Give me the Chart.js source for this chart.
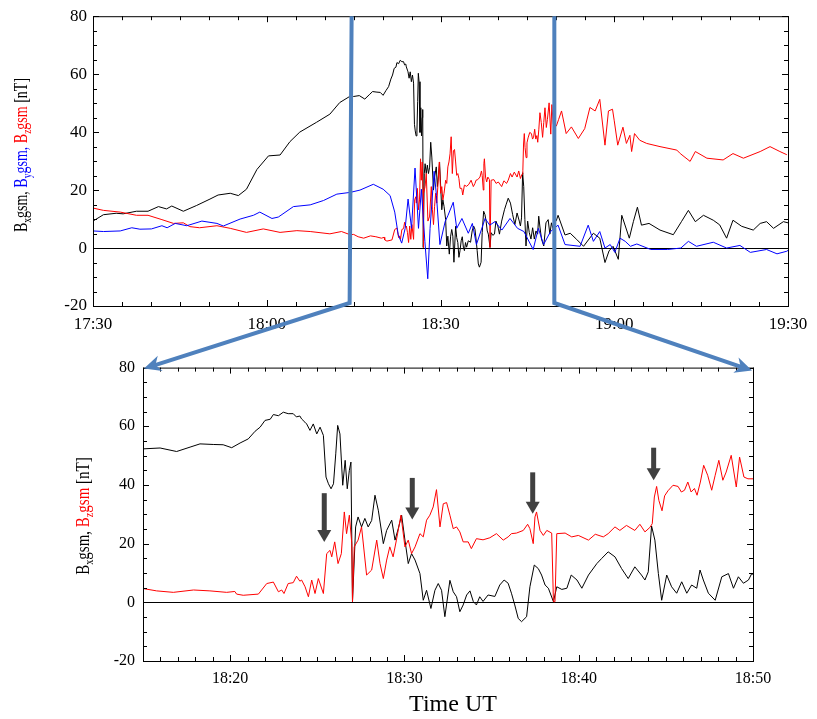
<!DOCTYPE html>
<html>
<head>
<meta charset="utf-8">
<script src="https://cdn.jsdelivr.net/npm/chart.js@4.4.1/dist/chart.umd.min.js"></script>
<style>
  body { margin:0; background:#fff; }
  #page { position:relative; width:817px; height:719px; overflow:hidden; }
  canvas { position:absolute; left:0; }
  #cTop { top:0; }
  #cZoom { top:350px; }
  #overlay { top:0; pointer-events:none; }
</style>
</head>
<body>
<div id="page">
  <canvas id="cTop" width="817" height="345"></canvas>
  <canvas id="cZoom" width="817" height="369"></canvas>
  <canvas id="overlay" width="817" height="719"></canvas>
</div>
<script>
/* times are minutes after 18:00 UT, values in nT */

// overview panel, before and after the zoomed window
const topBxEarly = [[-30,9.3],[-28.2,11.5],[-26,12],[-24.8,11.8],[-22.5,12.7],[-20.5,12.7],[-18.7,14.3],[-17.3,13.5],[-16.4,14.5],
  [-14.4,12.7],[-12.1,14.7],[-9.8,16.9],[-8.4,18.3],[-6.3,18.9],[-4.9,18.1],[-3.5,20.3],[-1.7,27.1],[0.3,31.8],[2.3,32.1],
  [4,36.7],[5.7,40],[8.6,43.4],[10.9,46.2],[12.6,50.2],[14.4,52.4]];
const topBxLate = [[50.3,11.3],[51.5,4.5],[52.4,5.1],[53.5,3],[54.7,0.6],[56.4,5.1],[57.5,3.4],[58.4,-5],[59.1,-1],[59.8,0.6],
  [60.7,-3.9],[61.3,11.3],[62.6,3.4],[63.3,9.1],[64,14.1],[64.7,7.9],[66,8.5],[67.9,6.2],[70.2,4.6],[71.6,9.1],[72.8,13],
  [74,9.1],[75.4,11.3],[77.1,9.6],[78.2,8],[79.4,3.4],[80.5,9.6],[82,7.5],[84,6.2],[85.2,8.5],[86.3,9.1],[87.5,6.8],[89.2,9.1],[90,8.7]];
const topBy = [[-30,5.9],[-28.2,5.7],[-25.3,5.9],[-23.3,7],[-21.9,6.5],[-19.9,6.6],[-18.1,7.7],[-17.2,7],[-15.8,8.5],[-13.8,7.7],
  [-11.2,9.3],[-8.6,8.5],[-7.5,7.6],[-4.6,10],[-2.3,11.3],[-1.2,12.4],[0.9,10.2],[2,10.7],[4.6,14.3],[7.5,14.9],[9.8,16.4],
  [12.1,18.6],[14.4,19.2],[16.1,20],[18.4,22],[20.1,20.3],[21.3,18.1],[22.1,12.4],[22.7,4.6],[23.3,1.7],[23.9,6.8],[24.4,16.9],
  [25,6.8],[25.6,27.6],[26.2,6.8],[26.7,20.3],[27.3,2.3],[27.8,-10.6],[28.2,6.8],[28.9,26.5],[29.3,18.1],[29.9,1.2],[30.8,9.1],
  [31.3,11.3],[32.2,15.8],[32.8,6.8],[33.7,10.2],[34.8,5.1],[35.5,8.5],[36.2,1.2],[37.7,10.2],[38.5,7.9],[39.4,9.1],[40.6,6.2],
  [42,10.2],[43.3,6.8],[44.4,5.7],[46,-0.5],[46.9,6.8],[47.8,1.2],[49,5.7],[50.3,7.9],[51.5,1.2],[54.1,0.6],[55.5,7.9],[56.4,2.3],
  [57.5,5.7],[58.4,0],[59.3,1.2],[60.1,-1.5],[61,3.4],[61.9,2.3],[62.8,0.6],[63.9,1.4],[66.3,-0.5],[69.2,-0.5],[71.5,0],[72.8,2.3],
  [74.2,0.6],[77.1,2],[79.4,0],[81.7,0.9],[83.5,-1.5],[86.3,-0.5],[88.1,-2],[89.8,-1.1],[90,-0.8]];
const topBzEarly = [[-30,13.8],[-28.2,13],[-25.3,12.4],[-22.5,11.3],[-20.5,11.3],[-18.1,9.8],[-16.1,8.5],[-14.4,8.7],[-13.3,7.4],
  [-11.6,7],[-8.6,7.7],[-6.3,6.8],[-3.5,5.4],[-0.6,6.6],[2.3,5.4],[5.2,6],[7.5,5.7],[10.9,4.9],[12.9,5.7],[14.4,4.6]];
const topBzLate = [[50.4,44.4],[50.9,47.3],[51.7,39.5],[52.6,41.8],[53.8,37.8],[54.9,41.2],[55.8,48.5],[56.7,47.3],[57.5,51.3],
  [58.4,35.5],[59,47.3],[59.7,47.9],[60,43.9],[60.6,35.5],[61.5,41.7],[62.1,36.1],[62.7,38.9],[63,33.3],[63.5,39.5],[64.4,37.2],
  [65.6,36.1],[67.9,35],[70.8,33.8],[71.4,32.6],[73.1,29.9],[74,33.3],[76,31],[78.8,30.4],[80.5,32.6],[82.3,31],[85.2,33.3],
  [86.9,35],[88.6,33.3],[89.8,32.2]];

// zoomed window 18:15 - 18:50
const zoomBx = [[15,52.3],[15.98,52.6],[16.93,51.4],[17.7,52.9],[18.27,54],[19.03,53.8],[19.6,53.7],[20.09,52.7],[20.57,54.3],
  [21.04,55.7],[21.43,58.3],[21.72,59.7],[22,62],[22.3,62.4],[22.48,64],[22.77,63.6],[23.05,64.8],[23.33,64.3],[23.62,64.3],
  [23.8,63.2],[24,63.5],[24.1,62.5],[24.29,61.4],[24.39,60.8],[24.58,58.6],[24.77,60.8],[24.97,57.4],[25.16,59.7],[25.35,56.9],
  [25.5,42.7],[25.64,40.4],[25.79,38.7],[25.93,40.4],[26.06,50.6],[26.17,60.3],[26.3,57.4],[26.46,39.9],[26.6,48.4],[26.72,38.7],
  [26.84,45],[26.93,47.8],[27.02,0.2],[27.2,25.7],[27.34,29.1],[27.54,25.7],[27.73,28.6],[27.92,25.7],[28.12,27.9],[28.31,36.5],
  [28.5,31.4],[28.79,20],[28.98,24.5],[29.27,28],[29.46,21.2],[29.65,25.2],[29.84,29.7],[30.03,21.2],[30.22,13.2],[30.41,16.6],
  [30.61,14.4],[30.89,9.8],[31.08,0.7],[31.27,4.1],[31.52,-2.1],[31.75,4.1],[31.94,6.4],[32.13,4.1],[32.32,-4.9],[32.61,7.5],
  [32.8,3.6],[32.99,1.9],[33.18,-3.2],[33.37,-0.9],[33.57,2.5],[33.76,3.9],[33.95,0.3],[34.13,-0.9],[34.32,1.9],[34.51,0.3],
  [34.8,2.5],[35.19,2],[35.47,5.9],[35.72,7.6],[35.95,6.5],[36.14,3.1],[36.33,-0.9],[36.53,-5.5],[36.72,-6.6],[37.01,-4.9],
  [37.2,5.3],[37.45,12.7],[37.68,11.5],[37.87,9.3],[38.07,5.9],[38.26,4.8],[38.55,0.2],[38.74,5.3],[39.03,4.4],[39.32,4.8],
  [39.57,9.3],[39.9,7.6],[40.18,4.8],[40.56,9.3],[41.04,13.2],[41.31,14.9],[41.69,17.2],[42.08,15.5],[42.46,11.5],[42.84,8.1],
  [43.22,12.1],[43.6,9.3],[43.8,7.6],[43.99,10.4],[44.18,26],[44.37,21.2],[44.57,9.8],[44.76,0.7],[45.05,9.3],[45.33,5.3],
  [45.62,3.1],[45.91,7],[46.2,3.1],[46.48,5.9],[46.77,4.8],[46.96,11],[47.15,7.6],[47.44,3.1],[47.83,0.7],[48.21,8.7],
  [48.59,9.8],[48.88,4.8],[49.16,8.7],[49.45,6.5],[49.74,7.6],[49.93,9.8],[50,9.5]];
const zoomBz = [[15,4.7],[15.78,3.9],[16.74,3.4],[17.9,4.2],[18.84,3.9],[19.8,3.4],[20.27,3.7],[20.37,2.8],[20.75,2.4],[21.62,2.8],
  [22.1,6.4],[22.48,6.9],[22.77,3.6],[22.96,4.2],[23.09,3],[23.33,6.4],[23.62,6.7],[23.81,8.9],[24,7.2],[24.1,7.6],[24.3,5.3],
  [24.49,1.9],[24.68,7.6],[24.87,3],[25.06,8.1],[25.35,3],[25.54,16.6],[25.73,17.7],[25.83,15.5],[26,20.6],[26.19,13.2],
  [26.38,16.6],[26.55,30.8],[26.68,23.4],[26.84,29.7],[26.98,20],[27.02,0.2],[27.12,18.9],[27.34,21.2],[27.54,25.7],[27.83,9.3],
  [28.12,11],[28.41,21.2],[28.6,13.2],[28.79,8.1],[28.98,14.4],[29.16,18.9],[29.35,15.5],[29.54,21.2],[29.8,29.7],[30.03,18.9],
  [30.22,21.2],[30.41,16.6],[30.61,18.9],[30.89,23.4],[31.08,22.3],[31.27,28],[31.46,29.7],[31.65,32.5],[31.84,38.4],[32.04,25.7],
  [32.23,33.6],[32.42,34],[32.61,29.7],[32.8,25.1],[32.99,25.7],[33.18,24],[33.37,20.6],[33.66,20.6],[33.84,18.3],[34.13,21.7],
  [34.51,21.3],[34.9,22],[35.28,23.4],[35.67,21.2],[35.95,22.3],[36.14,23.4],[36.43,23.6],[36.82,24.5],[37.07,26.6],[37.2,25.1],
  [37.39,20],[37.49,29.1],[37.58,30.8],[37.78,24.5],[37.97,22.8],[38.17,24.5],[38.45,23.6],[38.55,0.2],[38.64,0.2],[38.74,23.4],
  [39.22,23.6],[39.6,22.3],[39.98,22.8],[40.56,21.2],[40.95,23.2],[41.41,22.3],[41.69,23.4],[42.08,25.7],[42.36,24.5],[42.74,26.2],
  [43.22,24.5],[43.51,26.6],[43.8,24],[44.08,25.5],[44.22,26.8],[44.34,35.9],[44.47,39.5],[44.6,34.7],[44.78,31.2],[44.93,36.3],
  [45.12,38],[45.41,39.9],[45.7,39.5],[45.89,37.6],[46.07,38.2],[46.26,41],[46.45,37.6],[46.64,38.8],[46.79,36.5],[46.98,41],
  [47.17,46.7],[47.4,43.3],[47.63,38.2],[47.83,43.3],[48.04,48.4],[48.27,41.6],[48.46,44.4],[48.75,50.1],[49.04,39.3],[49.23,49.5],
  [49.48,42.7],[49.71,42.1],[50,42.1]];

// onset arrows in the zoomed panel
const arrowT   = [25.4, 30.45, 37.36, 44.3];
const arrowTip = [20.6, 28.2, 30.2, 41.6];
const arrowTop = [37.2, 42.4, 44.3, 52.7];

const zoomWindow = [15, 50];

const SERIF = '"Liberation Serif", "Times New Roman", serif';
Chart.defaults.font.family = SERIF;
Chart.defaults.color = '#000';

const xy = arr => arr.map(p => ({ x: p[0], y: p[1] }));

function hhmm(v) {
  const m = Math.round(v);
  const h = 18 + Math.floor(m / 60);
  return h + ':' + String(((m % 60) + 60) % 60).padStart(2, '0');
}

// rotated axis title with coloured pieces and subscripts; stretch widens the glyphs across the axis
function drawRich(ctx, parts, cx, cy, size, stretch) {
  ctx.save();
  ctx.translate(cx, cy);
  ctx.rotate(-Math.PI / 2);
  ctx.scale(1, stretch);
  ctx.textBaseline = 'middle';
  let total = 0;
  parts.forEach(p => {
    ctx.font = (p.sub ? size * 0.68 : size) + 'px ' + SERIF;
    p.w = ctx.measureText(p.t).width;
    total += p.w;
  });
  let x = -total / 2;
  parts.forEach(p => {
    ctx.font = (p.sub ? size * 0.68 : size) + 'px ' + SERIF;
    ctx.fillStyle = p.c;
    ctx.fillText(p.t, x, p.sub ? size * 0.3 : 0);
    x += p.w;
  });
  ctx.restore();
}

const framePlugin = {
  id: 'frame',
  beforeDatasetsDraw(chart) {
    const { ctx, chartArea: a, scales } = chart;
    const y0 = scales.y.getPixelForValue(0);
    ctx.save();
    ctx.strokeStyle = '#000';
    ctx.lineWidth = 1;
    ctx.beginPath();
    ctx.moveTo(a.left, Math.round(y0) + 0.5);
    ctx.lineTo(a.right, Math.round(y0) + 0.5);
    ctx.stroke();
    ctx.restore();
  },
  afterDatasetsDraw(chart, args, o) {
    const { ctx, chartArea: a, scales } = chart;
    ctx.save();
    ctx.strokeStyle = '#000';
    ctx.lineWidth = 1;
    ctx.strokeRect(a.left + 0.5, a.top + 0.5, a.right - a.left, a.bottom - a.top);
    ctx.beginPath();
    for (let v = scales.x.min; v <= scales.x.max + 1e-6; v += o.xMinor) {
      const px = Math.round(scales.x.getPixelForValue(v)) + 0.5;
      const len = Math.abs(Math.round(v) % o.xMajor) === 0 ? 6 : 4;
      ctx.moveTo(px, a.bottom); ctx.lineTo(px, a.bottom - len);
      ctx.moveTo(px, a.top); ctx.lineTo(px, a.top + len);
    }
    for (let v = scales.y.min; v <= scales.y.max + 1e-6; v += o.yMinor) {
      const py = Math.round(scales.y.getPixelForValue(v)) + 0.5;
      const len = Math.abs(Math.round(v) % 20) === 0 ? 6 : 4;
      ctx.moveTo(a.left, py); ctx.lineTo(a.left + len, py);
      ctx.moveTo(a.right, py); ctx.lineTo(a.right - len, py);
    }
    ctx.stroke();

    if (o.arrows) {
      ctx.fillStyle = '#404040';
      arrowT.forEach((t, i) => {
        const x = scales.x.getPixelForValue(t);
        const yTip = scales.y.getPixelForValue(arrowTip[i]);
        const yTop = scales.y.getPixelForValue(arrowTop[i]);
        ctx.fillRect(x - 2.5, yTop, 5, yTip - yTop - 11);
        ctx.beginPath();
        ctx.moveTo(x - 7, yTip - 12);
        ctx.lineTo(x + 7, yTip - 12);
        ctx.lineTo(x, yTip);
        ctx.closePath();
        ctx.fill();
      });
    }
    ctx.restore();
  },
  afterDraw(chart, args, o) {
    const ctx = chart.ctx;
    drawRich(ctx, o.title, o.titleX, o.titleY, o.titleSize, o.stretch);
    if (o.xTitle) {
      ctx.save();
      ctx.font = '24px ' + SERIF;
      ctx.fillStyle = '#000';
      ctx.textAlign = 'center';
      ctx.textBaseline = 'middle';
      ctx.fillText(o.xTitle, o.xTitleX, o.xTitleY);
      ctx.restore();
    }
  }
};

const K = '#000', BL = '#0000ff', RD = '#ff0000';
const lineStyle = { borderWidth: 1, pointRadius: 0, tension: 0, fill: false };

function axes(xmin, xmax, xstep, tickSize, xpad, ypad, yWidth, xHeight, filterX) {
  return {
    x: { type: 'linear', min: xmin, max: xmax,
      ticks: { stepSize: xstep, callback: hhmm, font: { size: tickSize }, color: '#000', padding: xpad, maxRotation: 0, autoSkip: false },
      grid: { display: false, drawTicks: false }, border: { display: false },
      afterBuildTicks: s => { if (filterX) s.ticks = s.ticks.filter(t => t.value % xstep === 0); },
      afterFit: s => { s.height = xHeight; } },
    y: { min: -20, max: 80,
      ticks: { stepSize: 20, font: { size: tickSize }, color: '#000', padding: ypad },
      grid: { display: false, drawTicks: false }, border: { display: false },
      afterFit: s => { s.width = yWidth; } }
  };
}

const topChart = new Chart(document.getElementById('cTop'), {
  type: 'line',
  data: { datasets: [
    { label: 'By', data: xy(topBy), borderColor: BL, ...lineStyle },
    { label: 'Bz', data: xy(topBzEarly.concat(zoomBz, topBzLate)), borderColor: RD, ...lineStyle },
    { label: 'Bx', data: xy(topBxEarly.concat(zoomBx, topBxLate)), borderColor: K, ...lineStyle }
  ] },
  options: {
    animation: false, responsive: false, parsing: false,
    layout: { padding: { left: 0, top: 10, right: 29, bottom: 0 } },
    scales: axes(-30, 90, 30, 17, 8, 6, 93, 39, false),
    plugins: {
      legend: { display: false }, tooltip: { enabled: false },
      frame: { xMinor: 5, xMajor: 30, yMinor: 5, titleX: 22, titleY: 155, titleSize: 14, stretch: 1.35,
        title: [
          { t: 'B', c: K }, { t: 'x', sub: true, c: K }, { t: 'gsm, ', c: K },
          { t: 'B', c: BL }, { t: 'y', sub: true, c: BL }, { t: 'gsm, ', c: BL },
          { t: 'B', c: RD }, { t: 'z', sub: true, c: RD }, { t: 'gsm', c: RD },
          { t: ' [nT]', c: K }
        ] }
    }
  },
  plugins: [framePlugin]
});

const zoomChart = new Chart(document.getElementById('cZoom'), {
  type: 'line',
  data: { datasets: [
    { label: 'Bz', data: xy(zoomBz), borderColor: RD, ...lineStyle },
    { label: 'Bx', data: xy(zoomBx), borderColor: K, ...lineStyle }
  ] },
  options: {
    animation: false, responsive: false, parsing: false,
    layout: { padding: { left: 0, top: 17, right: 64, bottom: 0 } },
    scales: axes(15, 50, 10, 16, 8, 8, 143, 58, true),
    plugins: {
      legend: { display: false }, tooltip: { enabled: false },
      frame: { xMinor: 1, xMajor: 10, yMinor: 5, titleX: 84, titleY: 166, titleSize: 15, stretch: 1.3, arrows: true,
        xTitle: 'Time UT', xTitleX: 453, xTitleY: 355,
        title: [
          { t: 'B', c: K }, { t: 'x', sub: true, c: K }, { t: 'gsm, ', c: K },
          { t: 'B', c: RD }, { t: 'z', sub: true, c: RD }, { t: 'gsm', c: RD },
          { t: ' [nT]', c: K }
        ] }
    }
  },
  plugins: [framePlugin]
});

// blue connectors from the overview window to the zoomed panel
(function drawLinks() {
  const ctx = document.getElementById('overlay').getContext('2d');
  const offY = 350;
  const za = zoomChart.chartArea;
  const ta = topChart.chartArea;
  const tips = [[za.left + 1, za.top + offY + 1], [za.right - 1, za.top + offY + 3]];
  ctx.strokeStyle = '#4f81bd';
  ctx.fillStyle = '#4f81bd';
  ctx.lineWidth = 4;
  ctx.lineJoin = 'miter';
  zoomWindow.forEach((t, i) => {
    const x = topChart.scales.x.getPixelForValue(t) - 2;
    const bend = [x - (i === 0 ? 2 : 0), ta.bottom - 3];
    const tip = tips[i];
    const dx = tip[0] - bend[0], dy = tip[1] - bend[1];
    const len = Math.hypot(dx, dy), ux = dx / len, uy = dy / len;
    const end = [tip[0] - ux * 10, tip[1] - uy * 10];
    ctx.beginPath();
    ctx.moveTo(x, ta.top);
    ctx.lineTo(bend[0], bend[1]);
    ctx.lineTo(end[0], end[1]);
    ctx.stroke();
    const px = -uy, py = ux;
    ctx.beginPath();
    ctx.moveTo(tip[0], tip[1]);
    ctx.lineTo(tip[0] - ux * 17 + px * 8, tip[1] - uy * 17 + py * 8);
    ctx.lineTo(tip[0] - ux * 12, tip[1] - uy * 12);
    ctx.lineTo(tip[0] - ux * 17 - px * 8, tip[1] - uy * 17 - py * 8);
    ctx.closePath();
    ctx.fill();
  });
})();
</script>
</body>
</html>
